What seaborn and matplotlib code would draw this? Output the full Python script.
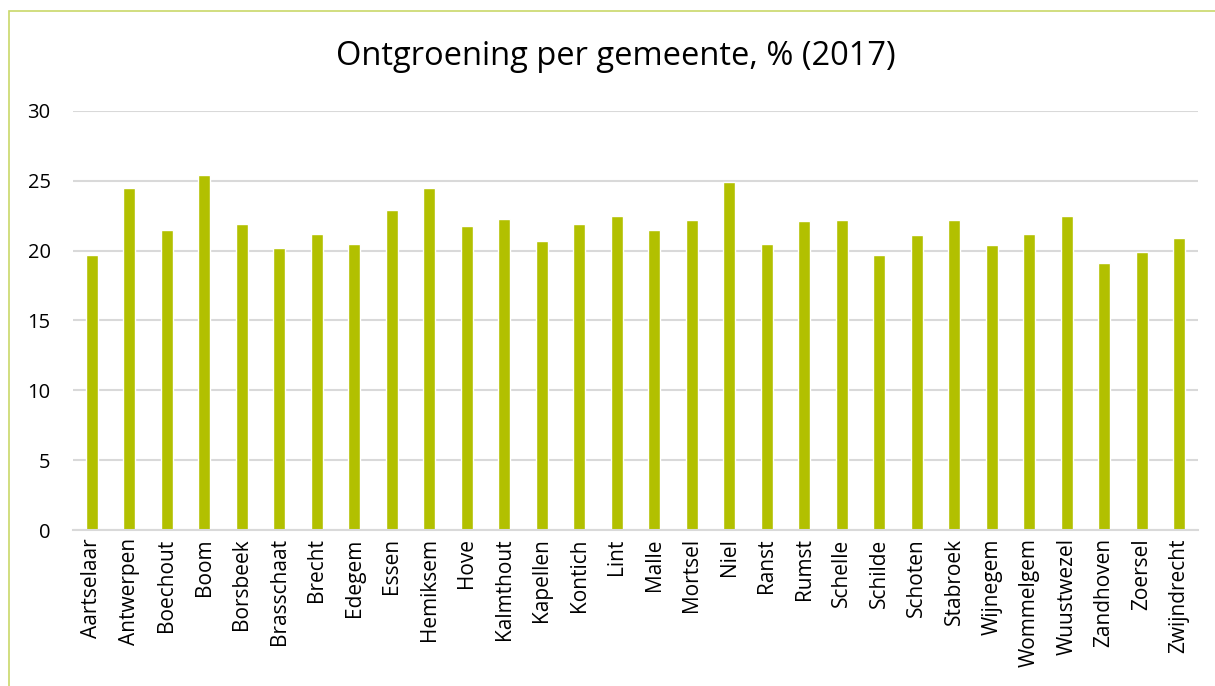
import matplotlib
matplotlib.use("Agg")
import matplotlib.pyplot as plt
import matplotlib.patches as mpatches
import seaborn as sns
import pandas as pd

gemeenten = ["Aartselaar", "Antwerpen", "Boechout", "Boom", "Borsbeek", "Brasschaat",
             "Brecht", "Edegem", "Essen", "Hemiksem", "Hove", "Kalmthout", "Kapellen",
             "Kontich", "Lint", "Malle", "Mortsel", "Niel", "Ranst", "Rumst", "Schelle",
             "Schilde", "Schoten", "Stabroek", "Wijnegem", "Wommelgem", "Wuustwezel",
             "Zandhoven", "Zoersel", "Zwijndrecht"]
ontgroening = [19.7, 24.5, 21.5, 25.4, 21.9, 20.2, 21.2, 20.5, 22.9, 24.5,
               21.8, 22.3, 20.7, 21.9, 22.5, 21.5, 22.2, 24.9, 20.5, 22.1,
               22.2, 19.7, 21.1, 22.2, 20.4, 21.2, 22.5, 19.1, 19.9, 20.9]

df = pd.DataFrame({"gemeente": gemeenten, "waarde": ontgroening})

sns.set_style("white")
plt.rcParams['font.family'] = ['Open Sans', 'DejaVu Sans']
plt.rcParams['text.color'] = 'black'
plt.rcParams['xtick.color'] = 'black'
plt.rcParams['ytick.color'] = 'black'

fig = plt.figure(figsize=(12.15, 6.86), dpi=100)
ax = fig.add_axes([0.060, 0.2274, 0.926, 0.6108])

sns.barplot(data=df, x="gemeente", y="waarde", color="#B2C000", width=0.32,
            saturation=1, ax=ax)

ax.set_ylim(0, 30)
ax.set_yticks([0, 5, 10, 15, 20, 25, 30])
ax.yaxis.grid(True, color="#D9D9D9", linewidth=1.5)
ax.set_axisbelow(True)
for s in ["top", "right", "left"]:
    ax.spines[s].set_visible(False)
ax.spines["bottom"].set_color("#D9D9D9")
ax.spines["bottom"].set_linewidth(1.5)
ax.set_xlabel("")
ax.set_ylabel("")
ax.tick_params(axis="x", rotation=90, labelsize=15, length=0, pad=6)
ax.tick_params(axis="y", labelsize=14.5, length=0, pad=16)
ax.set_xlim(-0.5, len(gemeenten) - 0.5)

fig.text(0.507, 0.918, "Ontgroening per gemeente, % (2017)", ha="center", va="center",
         fontsize=23.5)

# outer chart frame
fig.patches.append(mpatches.Rectangle((9 / 1215, -0.1), 1.2, 1 - 11 / 686 + 0.1,
                                      transform=fig.transFigure, fill=False,
                                      edgecolor="#C9D86A", linewidth=1.2))

fig.savefig("out.png", dpi=100)
